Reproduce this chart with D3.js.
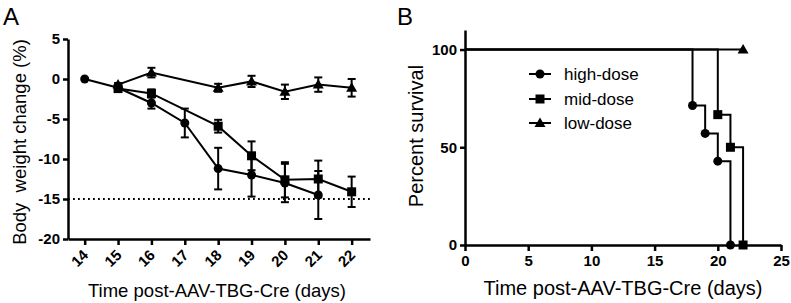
<!DOCTYPE html>
<html>
<head>
<meta charset="utf-8">
<script src="https://cdn.jsdelivr.net/npm/d3@7"></script>
<style>
  body { margin: 0; background: #fff; }
  svg { display: block; font-family: "Liberation Sans", Arial, sans-serif; }
  .tick text { font-weight: bold; font-size: 15px; fill: #000; }
  .domain, .tick line { stroke: #000; stroke-width: 2.5px; }
</style>
</head>
<body>
<div id="chart"></div>
<script>
// Panel A: body weight change (%) by day
const days = [14, 15, 16, 17, 18, 19, 20, 21, 22];
const highDays = [14, 15, 16, 17, 18, 19, 20, 21];
const highMean = [0, -1.1, -3.0, -5.5, -11.2, -12.0, -13.0, -14.5];
const highErr = [0, 0.3, 0.7, 1.8, 2.6, 2.7, 2.4, 3.0];
const midDays = [15, 16, 18, 19, 20, 21, 22];
const midMean = [-1.2, -1.8, -5.9, -9.6, -12.6, -12.5, -14.1];
const midErr = [0.3, 0.5, 0.8, 1.8, 2.2, 2.3, 1.9];
const lowDays = [15, 16, 18, 19, 20, 21, 22];
const lowMean = [-0.7, 0.8, -1.1, -0.3, -1.6, -0.7, -1.1];
const lowErr = [0.2, 0.6, 0.5, 0.7, 0.9, 0.9, 1.1];
const yTicksA = [5, 0, -5, -10, -15, -20];
const thresholdA = -15;

// Panel B: survival curves (event times, percent after event)
const highSurvT = [0, 18, 19, 20, 21];
const highSurvP = [100, 71.4, 57.1, 42.9, 0];
const midSurvT = [0, 20, 21, 22];
const midSurvP = [100, 66.7, 50, 0];
const lowSurvT = [0, 22];
const lowSurvP = [100, 100];
const xTicksB = [0, 5, 10, 15, 20, 25];
const yTicksB = [0, 50, 100];
const legendNames = ["high-dose", "mid-dose", "low-dose"];

const W = 791, H = 303;
const svg = d3.select("#chart").append("svg").attr("width", W).attr("height", H);
const plain = d => String(d); // keep ASCII hyphen for negatives

function marker(g, type, x, y) {
  if (type === "circle") {
    g.append("circle").attr("cx", x).attr("cy", y).attr("r", 4.5).attr("fill", "#000");
  } else if (type === "square") {
    g.append("rect").attr("x", x - 4.5).attr("y", y - 4.5).attr("width", 9).attr("height", 9).attr("fill", "#000");
  } else {
    g.append("path").attr("d", `M${x},${y - 5.5}L${x + 5.5},${y + 4}L${x - 5.5},${y + 4}Z`).attr("fill", "#000");
  }
}

// ---------- Panel A ----------
const xA = d3.scaleLinear().domain([13.5, 22.55]).range([68, 370]);
const yA = d3.scaleLinear().domain([-20, 5]).range([239, 39]);

const gA = svg.append("g");

gA.append("g")
    .attr("transform", `translate(68,0)`)
    .call(d3.axisLeft(yA).tickValues(yTicksA).tickFormat(plain).tickSize(5).tickPadding(3).tickSizeOuter(0));

const xAxisA = gA.append("g")
    .attr("transform", `translate(0,239)`)
    .call(d3.axisBottom(xA).tickValues(days).tickSize(6).tickSizeOuter(0));
xAxisA.selectAll(".tick text")
    .attr("text-anchor", "end")
    .attr("x", 0).attr("y", 0).attr("dy", 0)
    .attr("transform", "translate(4,17) rotate(-45)");

// dotted -15 line
gA.append("line")
    .attr("x1", xA(13.5)).attr("x2", xA(22.55))
    .attr("y1", yA(thresholdA)).attr("y2", yA(thresholdA))
    .attr("stroke", "#000").attr("stroke-width", 1.8)
    .attr("stroke-dasharray", "1.8,3.2");

const seriesA = [
  { d: highDays, m: highMean, e: highErr, type: "circle" },
  { d: midDays, m: midMean, e: midErr, type: "square" },
  { d: lowDays, m: lowMean, e: lowErr, type: "triangle" }
];

const lineA = d3.line().x(p => xA(p[0])).y(p => yA(p[1]));
seriesA.forEach(s => {
  const pts = s.d.map((d, i) => [d, s.m[i], s.e[i]]);
  gA.append("path").attr("d", lineA(pts)).attr("fill", "none")
      .attr("stroke", "#000").attr("stroke-width", 2);
  pts.forEach(p => {
    if (p[2] > 0) {
      const x = xA(p[0]), y1 = yA(p[1] + p[2]), y2 = yA(p[1] - p[2]);
      gA.append("line").attr("x1", x).attr("x2", x).attr("y1", y1).attr("y2", y2)
          .attr("stroke", "#000").attr("stroke-width", 2);
      [y1, y2].forEach(y => gA.append("line").attr("x1", x - 4).attr("x2", x + 4)
          .attr("y1", y).attr("y2", y).attr("stroke", "#000").attr("stroke-width", 2));
    }
    marker(gA, s.type, xA(p[0]), yA(p[1]));
  });
});

gA.append("text").attr("x", 3).attr("y", 25).attr("font-size", 24).text("A");
gA.append("text")
    .attr("transform", `translate(26,142) rotate(-90)`)
    .attr("text-anchor", "middle").attr("font-size", 18.5)
    .attr("xml:space", "preserve")
    .text("Body  weight change (%)");
gA.append("text").attr("x", 217).attr("y", 297)
    .attr("text-anchor", "middle").attr("font-size", 18.5)
    .text("Time post-AAV-TBG-Cre (days)");

// ---------- Panel B ----------
const xB = d3.scaleLinear().domain([0, 25]).range([465, 781]);
const yB = d3.scaleLinear().domain([0, 110]).range([245, 30]);
const gB = svg.append("g");

gB.append("g")
    .attr("transform", `translate(465,0)`)
    .call(d3.axisLeft(yB).tickValues(yTicksB).tickSize(5).tickPadding(3).tickSizeOuter(0));
gB.append("g")
    .attr("transform", `translate(0,245)`)
    .call(d3.axisBottom(xB).tickValues(xTicksB).tickSize(6).tickPadding(4).tickSizeOuter(0));

const seriesB = [
  { t: highSurvT, p: highSurvP, type: "circle" },
  { t: midSurvT, p: midSurvP, type: "square" },
  { t: lowSurvT, p: lowSurvP, type: "triangle" }
];
const stepLine = d3.line().x(p => xB(p[0])).y(p => yB(p[1])).curve(d3.curveStepAfter);
seriesB.forEach(s => {
  const pts = s.t.map((t, i) => [t, s.p[i]]);
  gB.append("path").attr("d", stepLine(pts)).attr("fill", "none")
      .attr("stroke", "#000").attr("stroke-width", 2);
  pts.forEach((p, i) => {
    if (i > 0) marker(gB, s.type, xB(p[0]), yB(p[1]));
  });
});

// legend
const legY = [74, 99, 123];
const legTypes = ["circle", "square", "triangle"];
legendNames.forEach((name, i) => {
  gB.append("line").attr("x1", 529).attr("x2", 551).attr("y1", legY[i]).attr("y2", legY[i])
      .attr("stroke", "#000").attr("stroke-width", 2);
  marker(gB, legTypes[i], 540, legY[i]);
  gB.append("text").attr("x", 564).attr("y", legY[i]).attr("dy", "0.35em")
      .attr("font-size", 17).text(name);
});

gB.append("text").attr("x", 397).attr("y", 25).attr("font-size", 24).text("B");
gB.append("text")
    .attr("transform", `translate(423,136) rotate(-90)`)
    .attr("text-anchor", "middle").attr("font-size", 20)
    .text("Percent survival");
gB.append("text").attr("x", 623).attr("y", 295)
    .attr("text-anchor", "middle").attr("font-size", 20)
    .text("Time post-AAV-TBG-Cre (days)");
</script>
</body>
</html>
